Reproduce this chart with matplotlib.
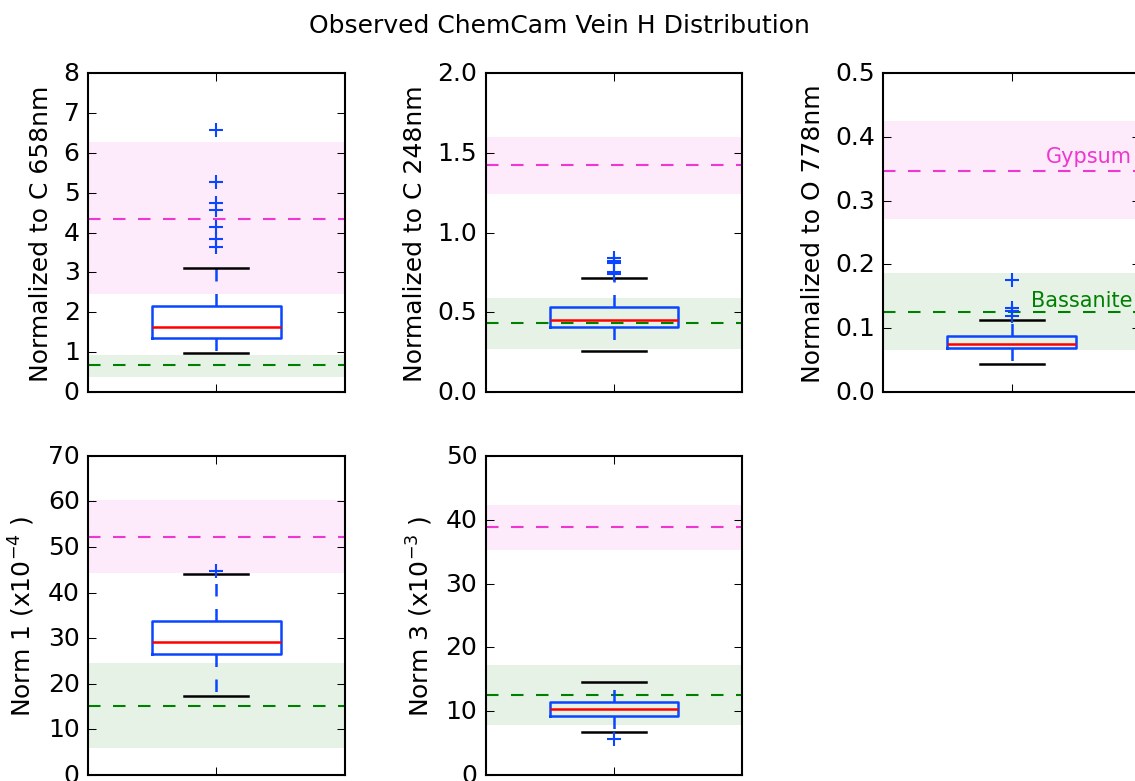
import numpy as np
import matplotlib.pyplot as plt

plt.style.use('classic')
plt.rcParams['mathtext.default'] = 'regular'
plt.rcParams['mathtext.fontset'] = 'dejavusans'

# one entry per panel
ylabels = ["Normalized to C 658nm", "Normalized to C 248nm", "Normalized to O 778nm",
           "Norm 1 (x10$^{-4}$ )", "Norm 3 (x10$^{-3}$ )"]
ymax = [8, 2, 0.5, 70, 50]
ystep = [1, 0.5, 0.1, 10, 10]

# box statistics of the observed veins
med = [1.63, 0.451, 0.0761, 29.2, 10.3]
q1 = [1.36, 0.407, 0.0688, 26.5, 9.17]
q3 = [2.15, 0.533, 0.0877, 33.7, 11.5]
whislo = [0.97, 0.259, 0.0446, 17.3, 6.67]
whishi = [3.11, 0.714, 0.1124, 44.1, 14.5]
fliers = [[6.58, 5.27, 4.74, 4.56, 4.13, 3.83, 3.64],
          [0.84, 0.82, 0.81, 0.75, 0.74],
          [0.175, 0.131, 0.127, 0.119],
          [44.8],
          [5.58]]

# reference minerals: value and range
gypsum = [4.35, 1.421, 0.347, 52.3, 38.8]
gyp_lo = [2.45, 1.243, 0.271, 44.3, 35.2]
gyp_hi = [6.26, 1.60, 0.424, 60.3, 42.3]
bass = [0.675, 0.43, 0.126, 15.2, 12.55]
bass_lo = [0.375, 0.27, 0.0656, 6.0, 7.9]
bass_hi = [0.925, 0.59, 0.187, 24.6, 17.2]

gyp_col = '#ee36d0'
bass_col = 'g'
box_col = '#0a46ff'

fig, axes = plt.subplots(2, 3, figsize=(1135/150, 782/150), dpi=150, facecolor='white')
fig.subplots_adjust(left=0.0775, right=1.0044, bottom=0.0077, top=0.9054,
                    wspace=0.549, hspace=0.2)
axes[1, 2].axis('off')

for i, ax in enumerate(axes.flat[:5]):
    ax.axhspan(gyp_lo[i], gyp_hi[i], color=gyp_col, alpha=0.1, lw=0)
    ax.axhspan(bass_lo[i], bass_hi[i], color=bass_col, alpha=0.1, lw=0)
    ax.axhline(gypsum[i], color=gyp_col, ls='--')
    ax.axhline(bass[i], color=bass_col, ls='--')

    stats = [{'med': med[i], 'q1': q1[i], 'q3': q3[i],
              'whislo': whislo[i], 'whishi': whishi[i], 'fliers': fliers[i]}]
    ax.bxp(stats, positions=[1], widths=0.5,
           boxprops=dict(color=box_col, lw=1.2),
           whiskerprops=dict(color=box_col, ls='--', lw=1.2),
           capprops=dict(color='k', lw=1.2),
           medianprops=dict(color='r', lw=1.2),
           flierprops=dict(marker='+', markeredgecolor=box_col, markersize=7))

    ax.set_xlim(0.5, 1.5)
    ax.set_xticks([1])
    ax.set_xticklabels([''])
    ax.set_ylim(0, ymax[i])
    ax.set_yticks(np.arange(0, ymax[i] + ystep[i] / 2, ystep[i]))
    ax.set_ylabel(ylabels[i])

ax = axes[0, 2]
ax.text(1.47, 0.36, 'Gypsum', color=gyp_col, fontsize=10, ha='right', va='baseline')
ax.text(1.47, 0.135, 'Bassanite', color=bass_col, fontsize=10, ha='right', va='baseline')

fig.suptitle('Observed ChemCam Vein H Distribution', x=0.493, y=0.982, fontsize=12)

fig.savefig('out.png', dpi=150, facecolor='white')
